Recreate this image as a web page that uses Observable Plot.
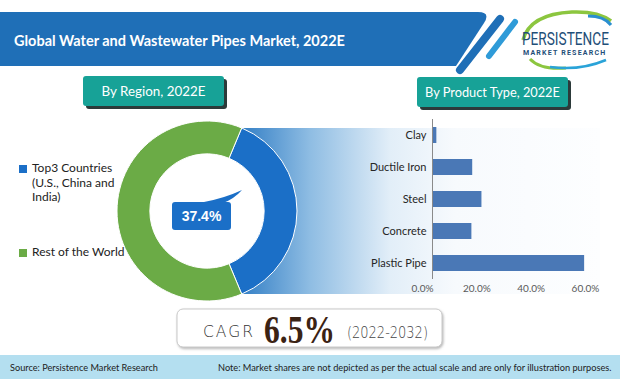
<!DOCTYPE html>
<html><head><meta charset="utf-8">
<script src="https://cdn.jsdelivr.net/npm/d3@7"></script>
<script src="https://cdn.jsdelivr.net/npm/@observablehq/plot@0.6"></script>
<style>
html,body{margin:0;padding:0;background:#fff;}
#wrap{position:relative;width:620px;height:379px;overflow:hidden;font-family:Lato,"Open Sans",sans-serif;}
#wrap > *{position:absolute;}
.lg{font-family:Lato,sans-serif;font-size:12px;line-height:14.5px;color:#222;white-space:pre-line;}
.sw{width:8px;height:8px;}
</style></head><body><div id="wrap"></div>
<script>
// ---- data ----
const title = "Global Water and Wastewater Pipes Market, 2022E";
const regionPanelTitle = "By Region, 2022E";
const productPanelTitle = "By Product Type, 2022E";
const regions = ["Top3 Countries\n(U.S., China and\nIndia)", "Rest of the World"];
const regionShares = [37.4, 62.6];
const regionColors = ["#1b6fc7", "#6bab46"];
const highlightLabel = "37.4%";
const productTypes = ["Clay", "Ductile Iron", "Steel", "Concrete", "Plastic Pipe"];
const productShares = [1.6, 14.8, 18.2, 14.5, 56.0];
const xTicks = [0, 20, 40, 60];
const cagrValue = "6.5%";
const cagrPeriod = "(2022-2032)";
const sourceText = "Source: Persistence Market Research";
const noteText = "Note: Market shares are not depicted as per the actual scale and are only for illustration purposes.";

const wrap = document.getElementById("wrap");

// ---- background / decoration ----
const bg = d3.select(wrap).append("svg").attr("width", 620).attr("height", 379)
  .style("left", "0px").style("top", "0px");
const defs = bg.append("defs");
const lg = defs.append("linearGradient").attr("id", "band").attr("gradientUnits", "userSpaceOnUse")
  .attr("x1", 238).attr("x2", 600).attr("y1", 0).attr("y2", 0);
[[0, "#2f7cc4"], [0.2, "#8fbde3"], [0.42, "#e2eef8"], [0.6, "#f7fafd"], [1, "#fdfeff"]]
  .forEach(([o, c]) => lg.append("stop").attr("offset", o).attr("stop-color", c));
const f = defs.append("filter").attr("id", "sh").attr("x", "-10%").attr("y", "-20%").attr("width", "130%").attr("height", "160%");
f.append("feDropShadow").attr("dx", 1).attr("dy", 1.5).attr("stdDeviation", 1.2).attr("flood-color", "#999").attr("flood-opacity", 0.7);

// fit a text's font size so that its natural width is the target width
function fit(sel, target) {
  const len = sel.node().getComputedTextLength();
  if (len > 0) {
    const fs = parseFloat(sel.attr("font-size"));
    sel.attr("font-size", (fs * target / len).toFixed(2));
  }
  return sel;
}
// squeeze a text horizontally (keeping its height) to the target width
function squeeze(sel, x, y, target, fallback) {
  const L = sel.node().getComputedTextLength() || fallback;
  sel.attr("x", 0).attr("y", 0).attr("transform", `translate(${x},${y}) scale(${(target / L).toFixed(3)},1)`);
  return sel;
}

// header band
bg.append("path").attr("d", "M0,12 H478 Q491,12 484,23 L456,66 H0 Z").attr("fill", "#1f6fb7");
bg.append("line").attr("x1", 500).attr("y1", 19).attr("x2", 460).attr("y2", 70)
  .attr("stroke", "#1f6fb7").attr("stroke-width", 8).attr("stroke-linecap", "round");
bg.append("line").attr("x1", 515).attr("y1", 22).attr("x2", 489).attr("y2", 56)
  .attr("stroke", "#2f9bd8").attr("stroke-width", 6).attr("stroke-linecap", "round");
fit(bg.append("text").attr("x", 14).attr("y", 46).text(title)
  .attr("fill", "#fff").attr("font-family", "Lato, sans-serif").attr("font-weight", "bold").attr("font-size", 16), 331);

// logo
bg.append("path").attr("d", "M523,40 Q530,14 572,12 Q598,11 611,21").attr("fill", "none").attr("stroke", "#8cc63f").attr("stroke-width", 3.5);
bg.append("path").attr("d", "M588,16 Q604,16 611,25").attr("fill", "none").attr("stroke", "#2a8fd0").attr("stroke-width", 3);
bg.append("path").attr("d", "M530,59 Q540,70 566,68").attr("fill", "none").attr("stroke", "#8cc63f").attr("stroke-width", 3);
bg.append("path").attr("d", "M550,67 Q580,71 606,60").attr("fill", "none").attr("stroke", "#2aa3d8").attr("stroke-width", 2.5);
squeeze(bg.append("text").text("PERSISTENCE")
  .attr("fill", "#1f4f78").attr("font-family", "Roboto, sans-serif").attr("font-size", 18), 522, 45, 87, 115);
fit(bg.append("text").attr("x", 523).attr("y", 55).text("MARKET RESEARCH")
  .attr("fill", "#1f4f78").attr("font-family", "Roboto, sans-serif").attr("font-weight", "bold").attr("font-size", 6.5)
  .attr("letter-spacing", 1.2), 85);

// panel title boxes
function panelBox(x, y, w, h, label, tl) {
  bg.append("rect").attr("x", x + 3).attr("y", y + 3).attr("width", w).attr("height", h).attr("rx", 3).attr("fill", "#2c3a3a");
  bg.append("rect").attr("x", x).attr("y", y).attr("width", w).attr("height", h).attr("rx", 3).attr("fill", "#17a297");
  fit(bg.append("text").attr("x", x + w / 2).attr("y", y + h / 2 + 4.5).attr("text-anchor", "middle").text(label)
    .attr("fill", "#fff").attr("font-family", "Lato, sans-serif").attr("font-size", 13), tl);
}
panelBox(83, 76, 141, 30, regionPanelTitle, 104);
panelBox(417, 77, 151, 30, productPanelTitle, 135);

// gradient band linking donut to bars
bg.append("rect").attr("x", 236).attr("y", 128).attr("width", 364).attr("height", 166).attr("fill", "url(#band)");

// CAGR box
bg.append("rect").attr("x", 177).attr("y", 309).attr("width", 265).attr("height", 38).attr("rx", 6)
  .attr("fill", "#fff").attr("stroke", "#c9c9c9").attr("filter", "url(#sh)");
bg.append("text").attr("x", 203).attr("y", 337).text("CAGR").attr("fill", "#333")
  .attr("font-family", "'DejaVu Sans', sans-serif").attr("font-weight", 300).attr("font-size", 15.5)
  .attr("letter-spacing", 2);
squeeze(bg.append("text").text(cagrValue).attr("fill", "#3b2314")
  .attr("font-family", "'Liberation Serif', serif").attr("font-weight", "bold").attr("font-size", 40), 264, 343, 71, 80);
squeeze(bg.append("text").text(cagrPeriod).attr("fill", "#444")
  .attr("font-family", "'DejaVu Sans', sans-serif").attr("font-weight", 300).attr("font-size", 16.5), 347, 337.5, 81, 110);

// footer
bg.append("rect").attr("x", 0).attr("y", 355).attr("width", 620).attr("height", 24).attr("fill", "#b4dff0");
fit(bg.append("text").attr("x", 10).attr("y", 371).text(sourceText).attr("fill", "#222")
  .attr("font-family", "Lato, sans-serif").attr("font-size", 10), 148);
fit(bg.append("text").attr("x", 218).attr("y", 371).text(noteText).attr("fill", "#222")
  .attr("font-family", "Lato, sans-serif").attr("font-size", 10), 394);

// ---- donut (Plot with a render mark) ----
const regionData = regions.map((r, i) => ({region: r, share: regionShares[i]}));
const colorScale = Plot.scale({color: {type: "ordinal", domain: regions, range: regionColors}});

function donutMark(index, scales, values, dims) {
  const color = (scales && scales.color) ? scales.color : (v => colorScale.apply(v));
  const w = dims.width - dims.marginLeft - dims.marginRight;
  const h = dims.height - dims.marginTop - dims.marginBottom;
  const cx = dims.marginLeft + w / 2, cy = dims.marginTop + h / 2;
  const R = Math.min(w, h) / 2, r = R * 0.635;
  const span = 2 * Math.PI * regionData[0].share / d3.sum(regionData, d => d.share);
  const a0 = Math.PI / 2 - span / 2;
  const pie = d3.pie().value(d => d.share).sort(null).startAngle(a0).endAngle(a0 + 2 * Math.PI);
  const arc = d3.arc().innerRadius(r).outerRadius(R);
  const g = d3.create("svg:g").attr("transform", `translate(${cx},${cy})`);
  g.append("circle").attr("r", r).attr("fill", "#fff");
  g.selectAll("path.seg").data(pie(regionData)).join("path").attr("class", "seg")
    .attr("d", arc).attr("fill", d => color(d.data.region)).attr("stroke", "#fff").attr("stroke-width", 1);
  // callout
  const cc = color(regionData[0].region);
  g.append("path").attr("d", "M-3,-9 Q18,-13 35,-21 Q27,-12 16,-8 Z").attr("fill", cc);
  g.append("rect").attr("x", -35).attr("y", -9).attr("width", 59).attr("height", 28).attr("rx", 3).attr("fill", cc);
  g.append("text").attr("x", -5.5).attr("y", 10).attr("text-anchor", "middle").text(highlightLabel)
    .attr("fill", "#fff").attr("font-family", "'Liberation Sans', Arial, sans-serif").attr("font-weight", "bold").attr("font-size", 14);
  return g.node();
}

const donutPlot = Plot.plot({
  width: 200, height: 180, margin: 0,
  style: {background: "transparent", overflow: "visible"},
  color: {type: "ordinal", domain: regions, range: regionColors},
  marks: [donutMark]
});
donutPlot.style.left = "107px"; donutPlot.style.top = "121px";
wrap.appendChild(donutPlot);

// legend (HTML, from the same arrays)
const legendTops = [161, 245];
regions.forEach((r, i) => {
  const sw = document.createElement("div");
  sw.className = "sw"; sw.style.background = colorScale.apply(r);
  sw.style.left = "19px"; sw.style.top = (legendTops[i] + 3.5) + "px";
  wrap.appendChild(sw);
  const t = document.createElement("div");
  t.className = "lg"; t.textContent = r;
  t.style.left = "32px"; t.style.top = legendTops[i] + "px";
  wrap.appendChild(t);
});

// ---- bars ----
const productData = productTypes.map((t, i) => ({type: t, share: productShares[i]}));
const fmt = d => d.toFixed(1) + "%";
const hasAxisMarks = typeof Plot.axisX === "function";
const barMarks = [
  Plot.barX(productData, {x: "share", y: "type", fill: "#4a78b6"}),
  Plot.ruleX([0], {stroke: "#8a8a8a", strokeWidth: 1})
];
if (hasAxisMarks) {
  barMarks.push(
    Plot.axisX({ticks: xTicks, tickSize: 0, tickPadding: 5, dx: -10, tickFormat: fmt, fill: "#595959", fontSize: 10, label: null}),
    Plot.axisY({tickSize: 0, tickPadding: 6, fill: "#262626", fontSize: 11, label: null})
  );
}
const barPlot = Plot.plot({
  width: 280, height: 190,
  marginLeft: 102, marginRight: 15, marginTop: 9, marginBottom: 21,
  style: {background: "transparent", fontFamily: "Lato, sans-serif", fontSize: "11px", color: "#262626", overflow: "visible"},
  x: {domain: [0, 60], ticks: xTicks, tickFormat: fmt, tickSize: 0, tickPadding: 5, label: null},
  y: {domain: productTypes, paddingInner: 0.5, paddingOuter: 0.25, tickSize: 0, tickPadding: 6, label: null},
  marks: barMarks
});
barPlot.style.left = "330px"; barPlot.style.top = "110px";
wrap.appendChild(barPlot);
</script></body></html>
